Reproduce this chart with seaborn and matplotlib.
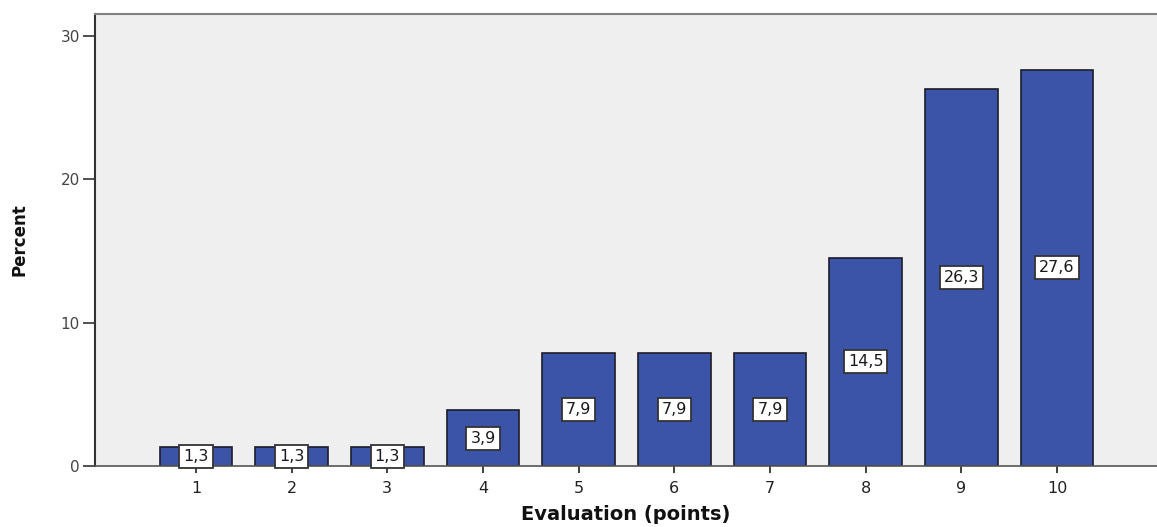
import matplotlib
matplotlib.use("Agg")
import matplotlib.pyplot as plt
import seaborn as sns
import pandas as pd

# Evaluation scores and their share of respondents
points = ["1", "2", "3", "4", "5", "6", "7", "8", "9", "10"]
percent = [1.3, 1.3, 1.3, 3.9, 7.9, 7.9, 7.9, 14.5, 26.3, 27.6]
value_labels = ["1,3", "1,3", "1,3", "3,9", "7,9", "7,9", "7,9", "14,5", "26,3", "27,6"]

df = pd.DataFrame({"points": points, "percent": percent})

sns.set_style("ticks")
plt.rcParams["font.family"] = ["DejaVu Sans"]

fig = plt.figure(figsize=(11.57, 5.27), dpi=100)
ax = fig.add_axes([95 / 1157, 61 / 527, 1062 / 1157, 452 / 527])
ax.set_facecolor("#efefef")

sns.barplot(data=df, x="points", y="percent", ax=ax, order=points,
            color="#3b54a8", saturation=1, width=0.76,
            edgecolor="#1c1c2a", linewidth=1.2)

ax.set_xlim(-1.055, 10.045)
ax.set_ylim(0, 31.5)
ax.set_yticks([0, 10, 20, 30])

# value boxes at the middle of each bar
for i, (v, lab) in enumerate(zip(percent, value_labels)):
    ax.text(i, v / 2, lab, ha="center", va="center", fontsize=11.5,
            color="#1a1a1a",
            bbox=dict(boxstyle="square,pad=0.25", facecolor="white",
                      edgecolor="#333333", linewidth=1.3))

ax.set_xlabel("Evaluation (points)", fontsize=14, fontweight="bold",
              labelpad=6, color="#111111")
ax.set_ylabel("Percent", fontsize=12, fontweight="bold", labelpad=23,
              color="#111111")

ax.tick_params(axis="x", length=5, width=1.2, color="#222222",
               labelsize=11.5, labelcolor="#222222", pad=6)
ax.tick_params(axis="y", length=9, width=1.2, color="#333333",
               labelsize=11, labelcolor="#444444", pad=2)

ax.spines["right"].set_visible(False)
ax.spines["top"].set_visible(True)
ax.spines["top"].set_color("#808080")
ax.spines["top"].set_linewidth(1.5)
ax.spines["left"].set_color("#333333")
ax.spines["left"].set_linewidth(1.5)
ax.spines["bottom"].set_color("#555555")
ax.spines["bottom"].set_linewidth(1.2)

fig.savefig("out.png", dpi=100)
